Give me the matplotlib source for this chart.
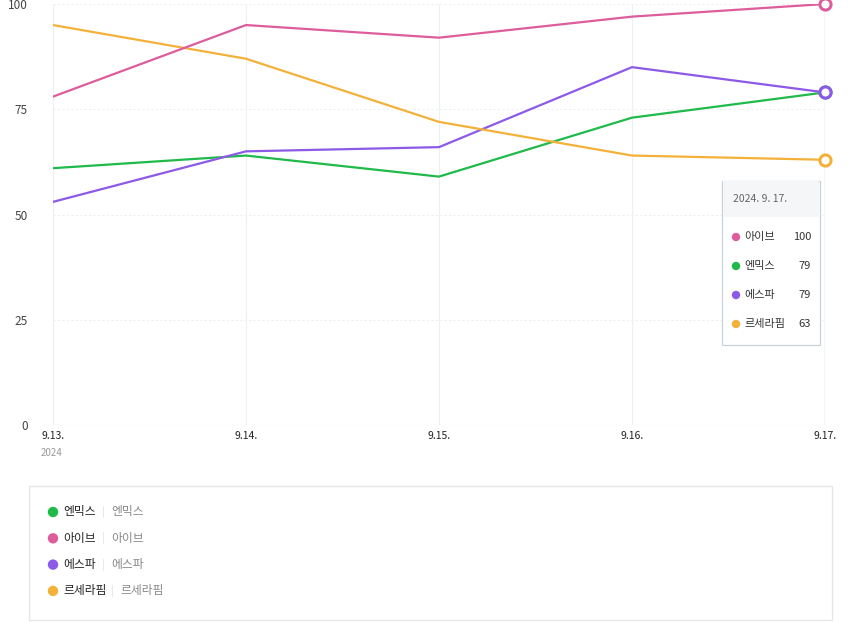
import numpy as np
import matplotlib
matplotlib.use('Agg')
import matplotlib.pyplot as plt
from matplotlib.patches import Rectangle, Ellipse

plt.rcParams["font.family"] = ["Noto Sans CJK KR", "DejaVu Sans"]

dates = ['9.13.', '9.14.', '9.15.', '9.16.', '9.17.']
year_label = '2024'
tooltip_title = '2024. 9. 17.'

names = ['엔믹스', '아이브', '에스파', '르세라핌']
nmixx = [61, 64, 59, 73, 79]
ive = [78, 95, 92, 97, 100]
aespa = [53, 65, 66, 85, 79]
lesserafim = [95, 87, 72, 64, 63]
series = [nmixx, ive, aespa, lesserafim]
colors = ['#1fba4a', '#dd5d9c', '#8c5ae6', '#f3b13a']

yticks = [0, 25, 50, 75, 100]

W, H = 850, 622
fig = plt.figure(figsize=(W / 100, H / 100), dpi=100)


def fx(x):
    return x / W


def fy(y):
    return 1 - y / H


def dot(x, y, r, color, z=12):
    fig.patches.append(Ellipse((fx(x), fy(y)), 2 * r / W, 2 * r / H,
                               transform=fig.transFigure, fc=color, ec='none', zorder=z))


ax = fig.add_axes([fx(53), fy(425), fx(825) - fx(53), fy(4) - fy(425)])
x = np.arange(len(dates))

for xi in x[:-1]:
    ax.axvline(xi, color='#eceff3', lw=0.8, zorder=0)
ax.axvline(x[-1], color='#c9d3de', lw=1.0, zorder=0)
for yv in yticks[1:]:
    ax.axhline(yv, color='#eceff3', lw=0.8, ls=(0, (2, 2)), zorder=0)
ax.axhline(0, color='#e6e9ee', lw=0.8, zorder=0)

draw_order = [0, 2, 3, 1]
for i in draw_order:
    ax.plot(x, series[i], color=colors[i], lw=1.6, zorder=3)
    ax.plot(x[-1], series[i][-1], 'o', ms=8, mfc='white', mec=colors[i], mew=2.2,
            zorder=4, clip_on=False)

ax.set_xlim(x[0], x[-1])
ax.set_ylim(0, 100)
ax.set_yticks(yticks)
ax.set_yticklabels([str(v) for v in yticks], color='#444444', fontsize=8.5)
ax.set_xticks(x)
ax.set_xticklabels(dates, fontsize=7.5, color='#222222')
ax.tick_params(axis='x', length=0, pad=4)
ax.tick_params(axis='y', length=0, pad=18)
for s in ax.spines.values():
    s.set_visible(False)
fig.text(fx(41), fy(453), year_label, fontsize=7, color='#999999', va='center')

# tooltip box
tt_left, tt_top, tt_w, tt_h = 722, 181, 98, 164
fig.patches.append(Rectangle((fx(tt_left), fy(tt_top + tt_h)), tt_w / W, tt_h / H,
                             transform=fig.transFigure, fc='white', ec='#c8d0da', lw=0.9, zorder=10))
fig.patches.append(Rectangle((fx(tt_left) + 0.0008, fy(217)), (tt_w - 1.5) / W, 35.5 / H,
                             transform=fig.transFigure, fc='#f5f6f8', ec='none', zorder=11))
fig.text(fx(733), fy(199), tooltip_title, fontsize=7.5, color='#666666', va='center', zorder=12)
order = sorted(range(len(names)), key=lambda i: -series[i][-1])
for k, i in enumerate(order):
    yy = 237 + k * 29
    dot(736, yy, 4.2, colors[i])
    fig.text(fx(744), fy(yy), names[i], fontsize=8, color='#333333', va='center', zorder=12)
    fig.text(fx(811), fy(yy), str(series[i][-1]), fontsize=8, color='#333333',
             va='center', ha='right', zorder=12)

# legend box
fig.patches.append(Rectangle((fx(29), fy(620)), (832 - 29) / W, (620 - 486) / H,
                             transform=fig.transFigure, fc='white', ec='#e3e6ea', lw=0.9))
for k, name in enumerate(names):
    yy = 512 + k * 26.3
    dot(53, yy, 5.2, colors[k], z=2)
    fig.text(fx(63), fy(yy), name, fontsize=8.5, color='#222222', va='center',
             fontweight='medium')
    sep_x = 102 if len(name) == 3 else 111
    fig.text(fx(sep_x), fy(yy), '|', fontsize=7.5, color='#dddddd', va='center')
    fig.text(fx(sep_x + 9), fy(yy), name, fontsize=8.5, color='#888888', va='center')

fig.savefig('out.png', dpi=100)
